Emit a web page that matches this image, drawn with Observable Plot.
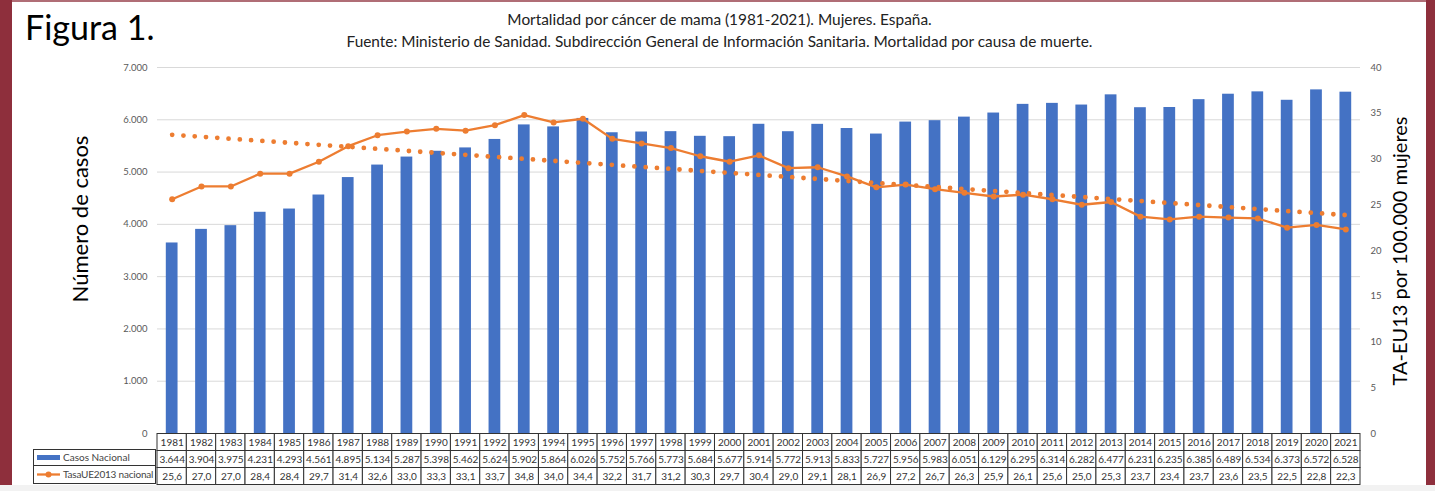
<!DOCTYPE html>
<html>
<head>
<meta charset="utf-8">
<script src="https://cdn.jsdelivr.net/npm/d3@7"></script>
<script src="https://cdn.jsdelivr.net/npm/@observablehq/plot@0.6"></script>
<style>
  html, body { margin: 0; padding: 0; background: #fff; }
  #wrap { position: relative; width: 1435px; height: 491px; overflow: hidden; background: #fff; font-family: Lato, "Open Sans", sans-serif; }
  .abs { position: absolute; }
  .border { background: #8E2F3C; }
  svg { overflow: visible; }
</style>
</head>
<body>
<div id="wrap">
  <div class="abs border" style="left:0;top:0;width:12px;height:491px"></div>
  <div class="abs border" style="left:1426px;top:0;width:9px;height:491px"></div>
  <div class="abs border" style="left:0;top:0;width:1435px;height:2px;opacity:0.7"></div>
  <div class="abs" style="left:0;top:485px;width:1435px;height:6px;background:#f2f2f2"></div>
  <div class="abs" id="fig" style="left:25px;top:6px;font-size:34px;color:#000;line-height:42px">Figura 1.</div>
  <div class="abs" id="t1" style="left:2px;top:10px;width:1435px;text-align:center;font-size:15.4px;line-height:19px;color:#222"></div>
  <div class="abs" id="t2" style="left:2px;top:32px;width:1435px;text-align:center;font-size:15.4px;line-height:19px;color:#222"></div>
  <div class="abs" id="ylab" style="left:79px;top:219px;width:0;height:0"></div>
  <div class="abs" id="ylab2" style="left:1399px;top:251px;width:0;height:0"></div>
  <div class="abs" id="main" style="left:0;top:0"></div>
  <div class="abs" id="table" style="left:0;top:433px"></div>
  <div class="abs" id="legend" style="left:33px;top:449px"></div>
</div>
<script>
const years = d3.range(1981, 2022);
const casos = [3644,3904,3975,4231,4293,4561,4895,5134,5287,5398,5462,5624,5902,5864,6026,5752,5766,5773,5684,5677,5914,5772,5913,5833,5727,5956,5983,6051,6129,6295,6314,6282,6477,6231,6235,6385,6489,6534,6373,6572,6528];
const tasa = [25.6,27.0,27.0,28.4,28.4,29.7,31.4,32.6,33.0,33.3,33.1,33.7,34.8,34.0,34.4,32.2,31.7,31.2,30.3,29.7,30.4,29.0,29.1,28.1,26.9,27.2,26.7,26.3,25.9,26.1,25.6,25.0,25.3,23.7,23.4,23.7,23.6,23.5,22.5,22.8,22.3];
const leftTicks = [0,1000,2000,3000,4000,5000,6000,7000];
const rightTicks = [0,5,10,15,20,25,30,35,40];
const seriesNames = ["Casos Nacional", "TasaUE2013 nacional"];
const title1 = "Mortalidad por cáncer de mama (1981-2021). Mujeres. España.";
const title2 = "Fuente: Ministerio de Sanidad. Subdirección General de Información Sanitaria. Mortalidad por causa de muerte.";
const yTitle = "Número de casos";
const y2Title = "TA-EU13 por 100.000 mujeres";

const BLUE = "#4472C4", ORANGE = "#ED7D31";
const RATIO = 7000 / 40;

const loc = d3.formatLocale({decimal: ",", thousands: ".", grouping: [3], currency: ["", "€"]});
const fmtInt = loc.format(",d");
const fmt1 = loc.format(".1f");

const data = years.map((y, i) => ({year: y, casos: casos[i], tasa: tasa[i]}));

document.getElementById("t1").textContent = title1;
document.getElementById("t2").textContent = title2;

function rotLabel(id, text, size) {
  const el = document.getElementById(id);
  const s = document.createElement("div");
  s.textContent = text;
  s.style.cssText = `position:absolute;left:0;top:0;white-space:nowrap;font-size:${size}px;color:#000;transform:translate(-50%,-50%) rotate(-90deg);`;
  el.appendChild(s);
}
rotLabel("ylab", yTitle, 22);
rotLabel("ylab2", y2Title, 20);

const xDomain = [1980.5, 2021.5];

const main = Plot.plot({
  width: 1435, height: 440,
  marginTop: 67, marginBottom: 7, marginLeft: 157, marginRight: 75,
  style: {color: "#595959", fontFamily: "Lato, 'Open Sans', sans-serif", fontSize: "10px", background: "transparent"},
  x: {domain: xDomain, axis: null},
  y: {domain: [0, 7000], label: null, axis: null},
  marks: [
    Plot.gridY(leftTicks, {stroke: "#d9d9d9", strokeOpacity: 1, strokeWidth: 1}),
    Plot.axisY(leftTicks, {anchor: "left", tickSize: 0, tickPadding: 10, tickFormat: fmtInt, label: null, fontSize: 9.5}),
    Plot.axisY(rightTicks.map(v => v * RATIO), {anchor: "right", tickSize: 0, tickPadding: 10, tickFormat: d => String(Math.round(d / RATIO)), label: null, fontSize: 9.5}),
    Plot.rectY(data, {x1: d => d.year - 0.5, x2: d => d.year + 0.5, y: "casos", insetLeft: 8.8, insetRight: 8.8, fill: BLUE}),
    Plot.linearRegressionY(data, {x: "year", y: d => d.tasa * RATIO, stroke: ORANGE, strokeWidth: 4.8, strokeDasharray: "0,11.3", strokeLinecap: "round", ci: 0}),
    Plot.line(data, {x: "year", y: d => d.tasa * RATIO, stroke: ORANGE, strokeWidth: 2.3}),
    Plot.dot(data, {x: "year", y: d => d.tasa * RATIO, r: 3, fill: ORANGE, stroke: "none"})
  ]
});
document.getElementById("main").appendChild(main);

const cells = [];
data.forEach(d => {
  cells.push({year: d.year, row: 0, text: String(d.year)});
  cells.push({year: d.year, row: 1, text: fmtInt(d.casos)});
  cells.push({year: d.year, row: 2, text: fmt1(d.tasa)});
});

const table = Plot.plot({
  width: 1435, height: 52,
  marginTop: 0, marginBottom: 0, marginLeft: 157, marginRight: 75,
  style: {color: "#333", fontFamily: "Lato, 'Open Sans', sans-serif", fontSize: "10px", background: "transparent"},
  x: {domain: xDomain, axis: null},
  y: {domain: [0, 3], range: [0.5, 51.5], axis: null},
  marks: [
    Plot.rect(cells, {x1: d => d.year - 0.5, x2: d => d.year + 0.5, y1: "row", y2: d => d.row + 1, fill: "white", stroke: "#333", strokeWidth: 1}),
    Plot.text(cells, {x: "year", y: d => d.row + 0.5, text: "text", fill: "#333", fontSize: 10})
  ]
});
document.getElementById("table").appendChild(table);

// legend column of the data table
const leg = document.getElementById("legend");
leg.innerHTML = `
<div style="position:absolute;left:0;top:0;width:123px;height:17px;border:1px solid #333;box-sizing:border-box;font-size:10px;color:#444;line-height:15px;white-space:nowrap;background:#fff">
  <svg width="26" height="15" style="vertical-align:top;margin-left:3px"><rect x="0" y="5" width="23" height="5" fill="${BLUE}"></rect></svg>${seriesNames[0]}
</div>
<div style="position:absolute;left:0;top:16px;width:123px;height:19px;border:1px solid #333;box-sizing:border-box;font-size:10px;color:#444;line-height:17px;white-space:nowrap;background:#fff;letter-spacing:-0.2px">
  <svg width="26" height="17" style="vertical-align:top;margin-left:3px"><line x1="0" x2="23" y1="8.5" y2="8.5" stroke="${ORANGE}" stroke-width="2.3"></line><circle cx="11.5" cy="8.5" r="3" fill="${ORANGE}"></circle></svg>${seriesNames[1]}
</div>`;
</script>
</body>
</html>
